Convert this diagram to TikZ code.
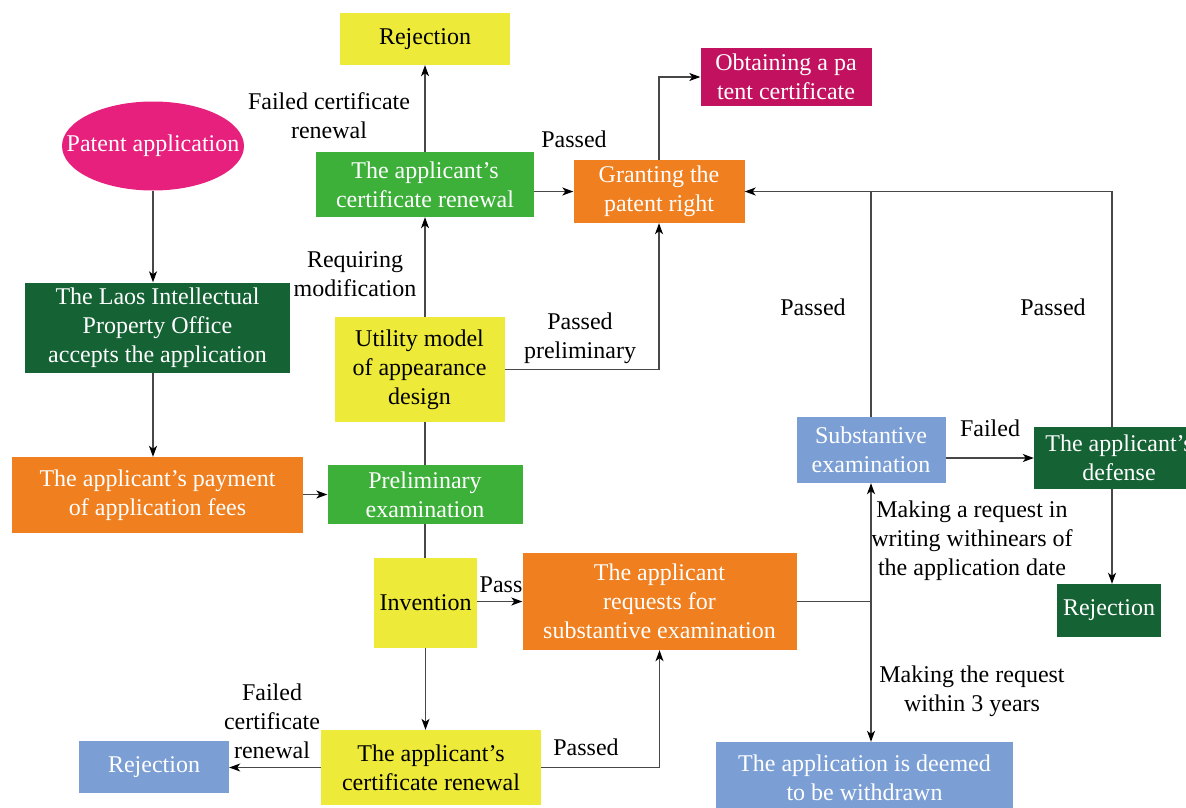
\documentclass[tikz,border=0pt]{standalone}
\usepackage{fontspec}
\setmainfont{Liberation Serif}
\usetikzlibrary{arrows.meta,calc,shapes.geometric}
\definecolor{cyel}{HTML}{EDEA3A}
\definecolor{cmag}{HTML}{C2125F}
\definecolor{cpink}{HTML}{E6207C}
\definecolor{cgreen}{HTML}{3CB039}
\definecolor{corange}{HTML}{EF7F1F}
\definecolor{cdkgreen}{HTML}{156234}
\definecolor{cblue}{HTML}{7B9FD4}
\begin{document}
\begin{tikzpicture}[x=1pt,y=-1pt,
  box/.style={rectangle, inner sep=0pt, align=center, font=\fontsize{24}{29}\selectfont, text=white},
  lab/.style={align=center, font=\fontsize{24}{29}\selectfont, inner sep=0pt},
  line/.style={draw=black!72, line width=1.2pt},
  arr/.style={line, -{Stealth[length=11pt,width=8pt,inset=3pt,color=black]}}
]
\useasboundingbox (0,0) rectangle (1186,808);
% nodes
\node[box, fill=cyel, text=black, minimum width=170pt, minimum height=52pt] (rejA) at (425,39) {Rejection};
\node[box, fill=cmag, minimum width=171pt, minimum height=58pt] (obt) at (786,77) {Obtaining a pa\\tent certificate};
\node[ellipse, inner sep=0pt, fill=cpink, text=white, font=\fontsize{24}{29}\selectfont, minimum width=182pt, minimum height=89pt] (pat) at (153,146) {\makebox[126pt]{Patent application}};
\node[box, fill=cgreen, minimum width=218pt, minimum height=65pt] (renA) at (425,184.5) {The applicant’s\\certificate renewal};
\node[box, fill=corange, minimum width=171pt, minimum height=63pt] (grant) at (659,191.5) {Granting the\\patent right};
\node[box, fill=cdkgreen, minimum width=265pt, minimum height=90pt] (laos) at (157.5,327.5) {The Laos Intellectual\\Property Office\\accepts the application};
\node[box, fill=cyel, text=black, minimum width=170pt, minimum height=105pt] (util) at (419.5,369.5) {Utility model\\of appearance\\design};
\node[box, fill=corange, minimum width=291pt, minimum height=76pt] (fees) at (157.5,495) {The applicant’s payment\\of application fees};
\node[box, fill=cgreen, minimum width=195pt, minimum height=59pt] (pre) at (425,494.5) {Preliminary\\examination};
\node[box, fill=cblue, minimum width=149pt, minimum height=66pt] (sub) at (871,450) {Substantive\\examination};
\node[box, fill=cdkgreen, minimum width=170pt, minimum height=62pt] (def) at (1119,458) {The applicant’s\\defense};
\node[box, fill=cdkgreen, minimum width=104pt, minimum height=53pt] (rejC) at (1109,610.5) {Rejection};
\node[box, fill=cyel, text=black, minimum width=103pt, minimum height=90pt] (inv) at (425.5,603) {Invention};
\node[box, fill=corange, minimum width=274pt, minimum height=97pt] (req) at (659.5,601.5) {The applicant\\requests for\\substantive examination};
\node[box, fill=cyel, text=black, minimum width=220pt, minimum height=75pt] (renB) at (431,767.5) {The applicant’s\\certificate renewal};
\node[box, fill=cblue, minimum width=150pt, minimum height=52pt] (rejB) at (154,767) {Rejection};
\node[box, fill=cblue, minimum width=297pt, minimum height=72pt] (wd) at (864.5,778) {The application is deemed\\to be withdrawn};
% labels
\node[lab] (l1) at (329,115.5) {Failed certificate\\renewal};
\node[lab] (l2) at (355,274.5) {Requiring\\modification};
\node[lab] (l3) at (574,139) {Passed};
\node[lab] (l4) at (580,338.5) {Passed\\preliminary};
\node[lab] (l5) at (813,307) {Passed};
\node[lab] (l6) at (1053,307) {Passed};
\node[lab] (l7) at (990,428) {Failed};
\node[lab] (l8) at (501,585) {Pass};
\node[lab] (l9) at (972,541) {Making a request in\\writing withinears of\\the application date};
\node[lab] (l10) at (972,691.5) {Making the request\\within 3 years};
\node[lab] (l11) at (272,721) {Failed\\certificate\\renewal};
\node[lab] (l12) at (586,747) {Passed};
\coordinate (dx) at (1112,0);
% connectors
\draw[arr] (pat.south) -- (pat.south |- laos.north);
\draw[arr] (laos.south -| pat.south) -- (pat.south |- fees.north);
\draw[arr] (fees.east |- pre.west) -- (pre.west);
\draw[line] (pre.north) -- (pre.north |- util.south);
\draw[line] (pre.south) -- (pre.south |- inv.north);
\draw[arr] (util.north -| pre.north) -- (pre.north |- renA.south);
\draw[arr] (renA.north -| pre.north) -- (pre.north |- rejA.south);
\draw[arr] (renA.east |- grant.west) -- (grant.west);
\draw[arr] (grant.north) |- (obt.west);
\draw[arr] (util.east) -| (grant.south);
\draw[arr] (sub.north) |- (grant.east);
\draw[line] (def.north -| dx) |- (sub.north |- grant.east);
\draw[arr] (def.south -| dx) -- (dx |- rejC.north);
\draw[arr] (sub.east |- def.west) -- (def.west);
\draw[arr] (inv.east |- req.west) -- (req.west);
\draw[line] (req.east) -- (req.east -| sub.south);
\draw[arr] (req.east -| sub.south) -- (sub.south);
\draw[arr] (req.east -| sub.south) -- (sub.south |- wd.north);
\draw[arr] (inv.south) -- (inv.south |- renB.north);
\draw[arr] (renB.west) -- (rejB.east |- renB.west);
\draw[arr] (renB.east) -| (req.south);
\end{tikzpicture}
\end{document}
